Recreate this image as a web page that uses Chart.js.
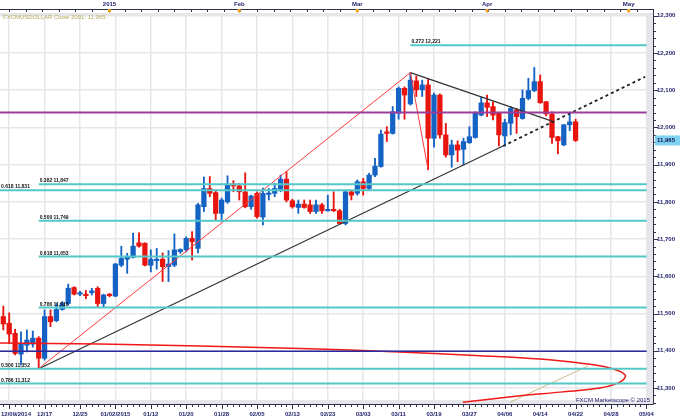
<!DOCTYPE html>
<html><head><meta charset="utf-8">
<script src="https://cdn.jsdelivr.net/npm/chart.js@4.4.1/dist/chart.umd.min.js"></script>
<style>html,body{margin:0;padding:0;background:#fff}#wrap{width:680px;height:420px}</style>
</head><body><div id="wrap"><canvas id="c" width="680" height="420"></canvas></div>
<script>
// ---------- data ----------
const opens  = [11492,11474,11447,11391,11415,11418,11434,11380,11492,11481,11511,11527,11570,11552,11552,11556,11568,11527,11552,11547,
                11630,11646,11651,11690,11689,11630,11642,11646,11626,11630,11666,11671,11702,11675,11787,11836,11825,11769,11800,11848,
                11843,11827,11787,11823,11759,11820,11823,11834,11861,11803,11785,11794,11792,11774,11792,11776,11779,11776,11742,11827,
                11823,11854,11836,11872,11895,11988,11984,12038,12105,12063,12125,12101,12114,11971,12087,11980,11926,11953,11941,11959,
                11973,12033,12066,12056,12038,11977,12011,12047,12024,12078,12099,12123,12069,12036,11975,11953,12007,12015];
const highs  = [11520,11502,11458,11451,11456,11453,11438,11510,11510,11527,11532,11579,11572,11560,11562,11568,11572,11552,11554,11635,
                11681,11662,11716,11717,11690,11671,11675,11663,11669,11714,11674,11706,11720,11796,11867,11868,11832,11810,11870,11857,
                11850,11878,11818,11827,11837,11836,11850,11872,11881,11807,11805,11805,11805,11805,11796,11818,11827,11780,11830,11829,
                11859,11863,11877,11917,11993,12002,12056,12109,12109,12147,12138,12127,12129,12092,12090,12011,11966,11964,11971,12002,
                12042,12081,12087,12069,12040,12022,12056,12051,12101,12132,12161,12141,12070,12042,11976,12008,12040,12022];
const lows   = [11456,11420,11389,11362,11397,11410,11353,11375,11465,11478,11509,11523,11550,11548,11540,11550,11517,11517,11545,11545,
                11626,11608,11649,11678,11628,11612,11619,11586,11586,11626,11662,11666,11644,11663,11774,11814,11751,11747,11796,11827,
                11805,11784,11780,11756,11738,11805,11814,11827,11800,11783,11769,11783,11769,11769,11769,11775,11774,11741,11738,11805,
                11818,11818,11832,11868,11893,11962,11982,12022,12022,12060,12083,12083,11886,11947,11971,11920,11893,11908,11899,11957,
                11971,12031,12029,12020,11950,11950,11980,11984,12022,12074,12096,12065,12031,11957,11929,11951,11991,11962];
const closes = [11472,11445,11393,11420,11429,11434,11380,11492,11478,11511,11527,11568,11552,11556,11548,11561,11527,11550,11548,11633,
                11648,11653,11681,11681,11630,11646,11646,11626,11633,11671,11672,11702,11693,11792,11836,11823,11769,11805,11848,11843,
                11827,11787,11816,11760,11823,11824,11836,11861,11805,11787,11794,11785,11774,11792,11776,11779,11776,11742,11827,11818,
                11854,11836,11872,11896,11982,11984,12042,12105,12087,12127,12101,12114,11971,12087,11980,11926,11953,11939,11962,11975,
                12038,12066,12054,12033,11980,12013,12051,12029,12078,12099,12123,12066,12036,11973,11964,12007,12015,11965];

const xTickIdx    = [1,7,13,19,25,31,37,43,49,55,61,67,73,79,85,91,97,103,109];
const xTickLabels = ["12/09/2014","12/17","12/25","01/02/2015","01/12","01/20","01/28","02/05","02/13","02/23",
                     "03/03","03/11","03/19","03/27","04/06","04/14","04/22","04/28","05/04"];
const monthIdx    = [18,40,60,82,106];
const monthLabels = ["2015","Feb","Mar","Apr","May"];
const yTicks      = [11300,11400,11500,11600,11700,11800,11900,12000,12100,12200,12300];

const fibValues = [12221,11847,11831,11749,11653,11516,11352,11312];
const fibLabels = ["0.272 12,221","0.382 11,847","0.618 11,831","0.500 11,749","0.618 11,653","0.786 11,516","0.500 11,352","0.786 11,312"];
const fibStart  = [69,6,-0.56,6,6,6,-0.56,-0.56];
const purpleLevel = 12040;
const navyLevel   = 11399;

const redUpX = [6,69],        redUpY = [11352,12147];
const redDownX = [69,72],     redDownY = [12147,11886];
const supportX = [6,84.7],    supportY = [11352,11950];
const supportExtX = [84.7,108.8], supportExtY = [11950,12136];
const resistX = [69,93],      resistY = [12147,12017];
const ellipseX = [-0.56,16.4,33.3,50.3,67.2,80.8,91.0,97.7,102.8,105.4,104.5,101.1,94.4,87.6,77.9];
const ellipseY = [11421,11418,11413,11406,11397,11387,11378,11367,11354,11335,11316,11300,11289,11279,11262];
const tanX = [85.9,99.1],     tanY = [11262,11359];

const titleText = "FXCMUSDOLLAR Close 2001: 11,965";
const lastPriceLabel = "11,965";
const watermark = "FXCM Marketscope \u00A9 2015";

// ---------- chart ----------
const X_MIN = -0.56, X_MAX = 110.12, LINE_END = 109.05;
const Y_MIN = 11257.1, Y_MAX = 12307.3;
const BLUE = '#1463c4', RED = '#e8140f', NAVY = '#23236e';

const idx = opens.map((_, i) => i);
const colors = idx.map(i => closes[i] >= opens[i] ? BLUE : RED);
const seg = (xs, ys) => xs.map((x, i) => ({x, y: ys[i]}));
const lineDs = (data, color, width, extra) => Object.assign({
  type: 'line', data, borderColor: color, borderWidth: width, pointRadius: 0,
  fill: false, tension: 0, order: 1
}, extra || {});

const datasets = [];
datasets.push({type: 'bar', data: idx.map(i => ({x: i, y: [lows[i], highs[i]]})),
  backgroundColor: colors, barThickness: 1.2, grouped: false, order: 10, borderWidth: 0});
datasets.push({type: 'bar', data: idx.map(i => ({x: i, y: [opens[i], closes[i]]})),
  backgroundColor: colors, barThickness: 4.6, grouped: false, order: 9, borderWidth: 0, minBarLength: 1.5});
fibValues.forEach((v, k) => datasets.push(lineDs([{x: fibStart[k], y: v}, {x: LINE_END, y: v}], '#52c8c8', 2)));
datasets.push(lineDs([{x: X_MIN, y: purpleLevel}, {x: LINE_END, y: purpleLevel}], '#9c3c9c', 2));
datasets.push(lineDs([{x: X_MIN, y: navyLevel}, {x: LINE_END, y: navyLevel}], '#2a2aa0', 1.5));
datasets.push(lineDs(seg(ellipseX, ellipseY), '#f01818', 1.5, {tension: 0.4}));
datasets.push(lineDs(seg(tanX, tanY), '#cdb98a', 1));
datasets.push(lineDs(seg(redUpX, redUpY), '#ff3a3a', 1));
datasets.push(lineDs(seg(redDownX, redDownY), '#ff3a3a', 1));
datasets.push(lineDs(seg(supportX, supportY), '#333333', 1.2));
datasets.push(lineDs(seg(supportExtX, supportExtY), '#222222', 1.8, {borderDash: [3, 3]}));
datasets.push(lineDs(seg(resistX, resistY), '#333333', 1.2));

const FONT = '"Liberation Sans", Arial, sans-serif';

const decor = {
  id: 'decor',
  beforeDatasetsDraw(chart) {
    const {ctx, chartArea: a} = chart;
    ctx.save();
    ctx.fillStyle = '#e6e5ea';
    ctx.fillRect(a.left, a.top, a.right - a.left, 3);
    ctx.fillRect(a.left, a.bottom - 4, a.right - a.left, 4);
    ctx.fillRect(a.right - 6, a.top, 6, a.bottom - a.top);
    ctx.restore();
  },
  afterDatasetsDraw(chart) {
    const {ctx, chartArea: a, scales: {x, y}} = chart;
    ctx.save();
    ctx.font = 'bold 5px ' + FONT;
    ctx.fillStyle = '#111';
    ctx.textAlign = 'left';
    ctx.textBaseline = 'alphabetic';
    fibValues.forEach((v, k) => {
      const px = Math.max(0, x.getPixelForValue(fibStart[k]));
      ctx.fillText(fibLabels[k], px + 1, y.getPixelForValue(v) - 2);
    });
    ctx.font = '6px ' + FONT;
    ctx.fillStyle = '#b4ae5c';
    ctx.textBaseline = 'middle';
    ctx.fillText(titleText, 3, 17);
    ctx.fillStyle = NAVY;
    ctx.textAlign = 'right';
    ctx.fillText(watermark, a.right - 3, 400);
    ctx.restore();
  },
  afterDraw(chart) {
    const {ctx, chartArea: a, scales: {x, y}} = chart;
    ctx.save();
    ctx.strokeStyle = '#30304a';
    ctx.lineWidth = 1;
    ctx.beginPath(); ctx.moveTo(0, 9.5); ctx.lineTo(a.right, 9.5);
    ctx.moveTo(a.right + 0.5, 9); ctx.lineTo(a.right + 0.5, a.top); ctx.stroke();
    ctx.beginPath();
    for (let v = 1; v < X_MAX; v += 2.8) {
      const px = Math.round(x.getPixelForValue(v)) + 0.5;
      ctx.moveTo(px, 9.5); ctx.lineTo(px, 12);
    }
    ctx.stroke();
    ctx.font = 'bold 6px ' + FONT;
    ctx.textAlign = 'center'; ctx.textBaseline = 'middle';
    monthIdx.forEach((v, k) => {
      const px = x.getPixelForValue(v);
      ctx.fillStyle = '#f0a020';
      ctx.fillRect(px - 1.5, 9, 3, 3);
      ctx.fillRect(px - 0.5, 9, 1, 4);
      ctx.fillStyle = NAVY;
      ctx.fillText(monthLabels[k], px, 4);
    });
    ctx.strokeStyle = '#30304a';
    ctx.beginPath();
    for (let v = 0; v <= 109; v++) {
      const px = Math.round(x.getPixelForValue(v)) + 0.5;
      const major = xTickIdx.includes(v);
      ctx.moveTo(px, a.bottom); ctx.lineTo(px, a.bottom + (major ? 5 : 3));
    }
    ctx.stroke();
    ctx.fillStyle = NAVY;
    ctx.font = 'bold 6px ' + FONT;
    xTickIdx.forEach((v, k) => {
      let px = x.getPixelForValue(v);
      const w = ctx.measureText(xTickLabels[k]).width;
      if (px - w / 2 < 1) px = 1 + w / 2;
      if (px + w / 2 > 679) px = 679 - w / 2;
      ctx.fillText(xTickLabels[k], px, 414.5);
    });
    ctx.beginPath();
    for (let v = 11260; v <= 12300; v += 20) {
      const py = Math.round(y.getPixelForValue(v)) + 0.5;
      const major = v % 100 === 0;
      ctx.moveTo(a.right, py); ctx.lineTo(a.right + (major ? 5 : 3), py);
    }
    ctx.stroke();
    ctx.textAlign = 'left';
    yTicks.forEach(v => {
      ctx.fillText(v.toLocaleString('en-US'), a.right + 4, y.getPixelForValue(v));
    });
    const lp = y.getPixelForValue(closes[closes.length - 1]);
    ctx.fillStyle = '#7fd3f0';
    ctx.fillRect(a.right + 2, lp - 5, 680 - a.right - 2, 10);
    ctx.fillStyle = '#101050';
    ctx.fillText(lastPriceLabel, a.right + 4, lp);
    ctx.restore();
  }
};

new Chart(document.getElementById('c'), {
  type: 'line',
  data: {datasets},
  options: {
    responsive: false, animation: false, events: [],
    layout: {padding: {top: 13, left: 0, right: 0, bottom: 0}},
    plugins: {legend: {display: false}, tooltip: {enabled: false}},
    scales: {
      x: {type: 'linear', position: 'bottom', min: X_MIN, max: X_MAX, offset: false,
          afterBuildTicks: s => { s.ticks = xTickIdx.map(v => ({value: v})); },
          afterFit: s => { s.height = 16; },
          ticks: {display: false},
          grid: {color: '#e7e5ea', lineWidth: 1.5, drawTicks: false, offset: false},
          border: {display: true, color: '#30304a', width: 1}},
      y: {type: 'linear', position: 'right', min: Y_MIN, max: Y_MAX,
          afterBuildTicks: s => { s.ticks = yTicks.map(v => ({value: v})); },
          afterFit: s => { s.width = 27; },
          ticks: {display: false},
          grid: {color: '#e7e5ea', lineWidth: 1.5, drawTicks: false},
          border: {display: true, color: '#30304a', width: 1}}
    }
  },
  plugins: [decor]
});
</script>
</body></html>
